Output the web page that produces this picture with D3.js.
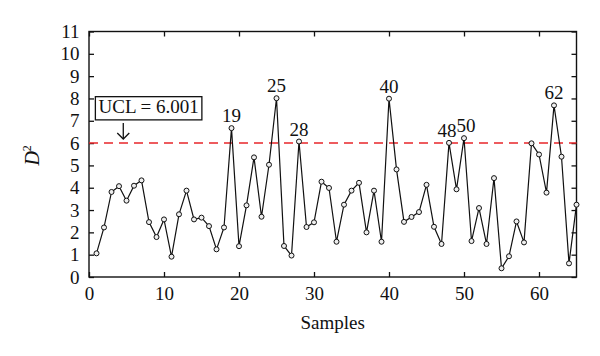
<!DOCTYPE html>
<html><head><meta charset="utf-8">
<script src="https://cdn.jsdelivr.net/npm/d3@7"></script>
<style>body{margin:0;background:#fff}svg{display:block}text{font-family:"Liberation Serif","DejaVu Serif",serif;fill:#111}</style>
</head><body>
<svg id="c" width="600" height="356"></svg>
<script>
const samples = d3.range(1, 66);
const d2 = [1.06,2.22,3.81,4.07,3.42,4.09,4.33,2.46,1.79,2.58,
            0.91,2.81,3.87,2.58,2.66,2.28,1.24,2.22,6.67,1.38,
            3.21,5.36,2.70,5.03,8.01,1.39,0.96,6.07,2.24,2.45,
            4.27,3.99,1.58,3.24,3.87,4.22,2.00,3.87,1.58,7.99,
            4.82,2.47,2.69,2.91,4.13,2.25,1.48,6.01,3.93,6.22,
            1.61,3.09,1.48,4.43,0.39,0.93,2.49,1.55,5.99,5.49,
            3.78,7.69,5.39,0.61,3.24];
const labeled = [19,25,28,40,48,50,62];
const labelDx = {48:-2, 50:2};
const ucl = 6.001;
const xTicks = [0,10,20,30,40,50,60];
const yTicks = d3.range(0, 12);

const svg = d3.select("#c");
const x = d3.scaleLinear().domain([0,65]).range([89,576.5]);
const y = d3.scaleLinear().domain([0,11]).range([277,31.5]);

// frame
svg.append("rect").attr("x",x(0)).attr("y",y(11)).attr("width",x(65)-x(0)).attr("height",y(0)-y(11))
  .attr("fill","none").attr("stroke","#111").attr("stroke-width",1.4);

const fs = 19;
// axes (ticks inward)
const gB = svg.append("g").attr("transform",`translate(0,${y(0)})`)
  .call(d3.axisBottom(x).tickValues(xTicks).tickSize(-5).tickPadding(9.5).tickFormat(d3.format("d")));
const gT = svg.append("g").attr("transform",`translate(0,${y(11)})`)
  .call(d3.axisTop(x).tickValues(xTicks).tickSize(-5).tickFormat(""));
const gL = svg.append("g").attr("transform",`translate(${x(0)},0)`)
  .call(d3.axisLeft(y).tickValues(yTicks).tickSize(-5).tickPadding(9.5).tickFormat(d3.format("d")));
const gR = svg.append("g").attr("transform",`translate(${x(65)},0)`)
  .call(d3.axisRight(y).tickValues(yTicks).tickSize(-5).tickFormat(""));
[gB,gT,gL,gR].forEach(g=>{
  g.select(".domain").remove();
  g.selectAll(".tick line").attr("stroke","#111").attr("stroke-width",1.3);
  g.selectAll("text").attr("font-size",fs).attr("fill","#111");
});

// UCL line
svg.append("line").attr("x1",x(0)).attr("x2",x(65)).attr("y1",y(ucl)).attr("y2",y(ucl))
  .attr("stroke","#e8262a").attr("stroke-width",1.6).attr("stroke-dasharray","9,6");

// series line
const pts = samples.map((s,i)=>({s, v:d2[i]}));
svg.append("path").datum(pts)
  .attr("d", d3.line().x(d=>x(d.s)).y(d=>y(d.v)))
  .attr("fill","none").attr("stroke","#111").attr("stroke-width",1.2);
svg.selectAll("circle.pt").data(pts).join("circle").attr("class","pt")
  .attr("cx",d=>x(d.s)).attr("cy",d=>y(d.v)).attr("r",2.5)
  .attr("fill","#eee").attr("stroke","#111").attr("stroke-width",1);

// point labels
svg.selectAll("text.lab").data(labeled).join("text").attr("class","lab")
  .attr("x",s=>x(s)+(labelDx[s]||0)).attr("y",s=>y(d2[s-1])-6)
  .attr("text-anchor","middle").attr("font-size",fs).text(s=>s);

// UCL annotation box
const bx0 = x(0.85), bx1 = x(15.05), by0 = y(8.08), by1 = y(7.04);
svg.append("rect").attr("x",bx0).attr("y",by0).attr("width",bx1-bx0).attr("height",by1-by0)
  .attr("fill","#fff").attr("stroke","#111").attr("stroke-width",1.3);
svg.append("text").attr("x",(bx0+bx1)/2).attr("y",by1-6.5).attr("text-anchor","middle")
  .attr("font-size",fs).text("UCL = 6.001");
// arrow
const ax = x(4.57), ay0 = y(6.9), ay1 = y(6.18);
svg.append("line").attr("x1",ax).attr("x2",ax).attr("y1",ay0).attr("y2",ay1).attr("stroke","#111").attr("stroke-width",1.3);
svg.append("path").attr("d",`M${ax-6},${ay1-6}L${ax},${ay1}L${ax+6},${ay1-6}`).attr("fill","none").attr("stroke","#111").attr("stroke-width",1.3);

// axis titles
svg.append("text").attr("x",(x(0)+x(65))/2).attr("y",328.5).attr("text-anchor","middle").attr("font-size",fs).text("Samples");
const yl = svg.append("text").attr("transform",`translate(39,${y(5.45)}) rotate(-90)`).attr("text-anchor","middle").attr("font-size",fs+1).attr("font-style","italic");
yl.append("tspan").text("D");
yl.append("tspan").attr("font-size",12).attr("dy",-8).attr("font-style","normal").text("2");
</script>
</body></html>
